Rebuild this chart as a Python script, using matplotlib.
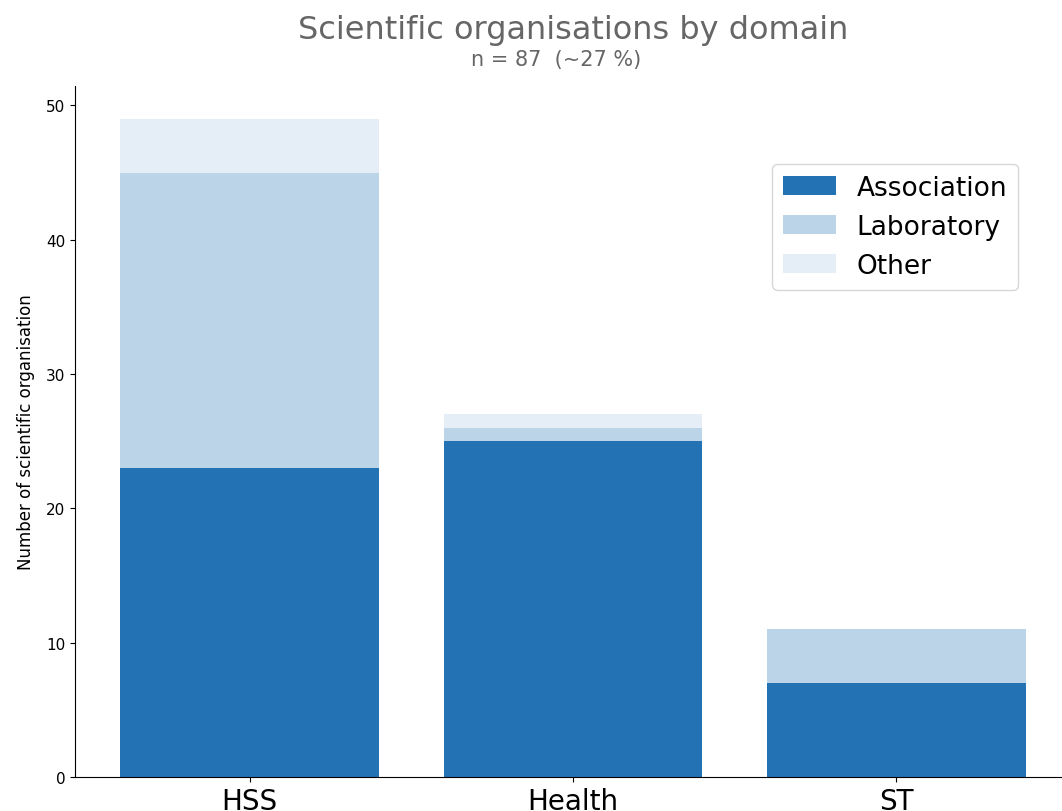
import numpy as np
import matplotlib
matplotlib.use("Agg")
import matplotlib.pyplot as plt

# data
domains = ["HSS", "Health", "ST"]
association = [23, 25, 7]
laboratory = [22, 1, 4]
other = [4, 1, 0]

COLOURS = ["#2372b4", "#bcd4e8", "#e5eef6"]

fig = plt.figure(figsize=(10.62, 8.12), dpi=100)
# axes runs a little past the right edge, as in the cropped original
ax = fig.add_axes([75 / 1062, 34 / 812, 996 / 1062, 691 / 812])

x = np.arange(len(domains))
bottom2 = np.array(association)
bottom3 = bottom2 + np.array(laboratory)

ax.bar(x, association, width=0.8, color=COLOURS[0], label="Association")
ax.bar(x, laboratory, width=0.8, bottom=bottom2, color=COLOURS[1], label="Laboratory")
ax.bar(x, other, width=0.8, bottom=bottom3, color=COLOURS[2], label="Other")

ax.set_xticks(x)
ax.set_xticklabels(domains, fontsize=20)
ax.tick_params(axis="y", labelsize=11)
ax.set_ylabel("Number of scientific organisation", fontsize=12, labelpad=8)

ax.spines["top"].set_visible(False)
ax.spines["right"].set_visible(False)

ax.legend(loc="upper right", bbox_to_anchor=(1018 / 1062, 1 - 165 / 812),
          bbox_transform=fig.transFigure, fontsize=19, borderaxespad=0)

fig.text(573 / 1062, 1 - 30 / 812, "Scientific organisations by domain",
         ha="center", va="center", fontsize=23, color="#666666")
fig.text(556 / 1062, 1 - 60 / 812, "n = 87  (~27 %)",
         ha="center", va="center", fontsize=15, color="#666666")

fig.savefig("out.png", dpi=100)
